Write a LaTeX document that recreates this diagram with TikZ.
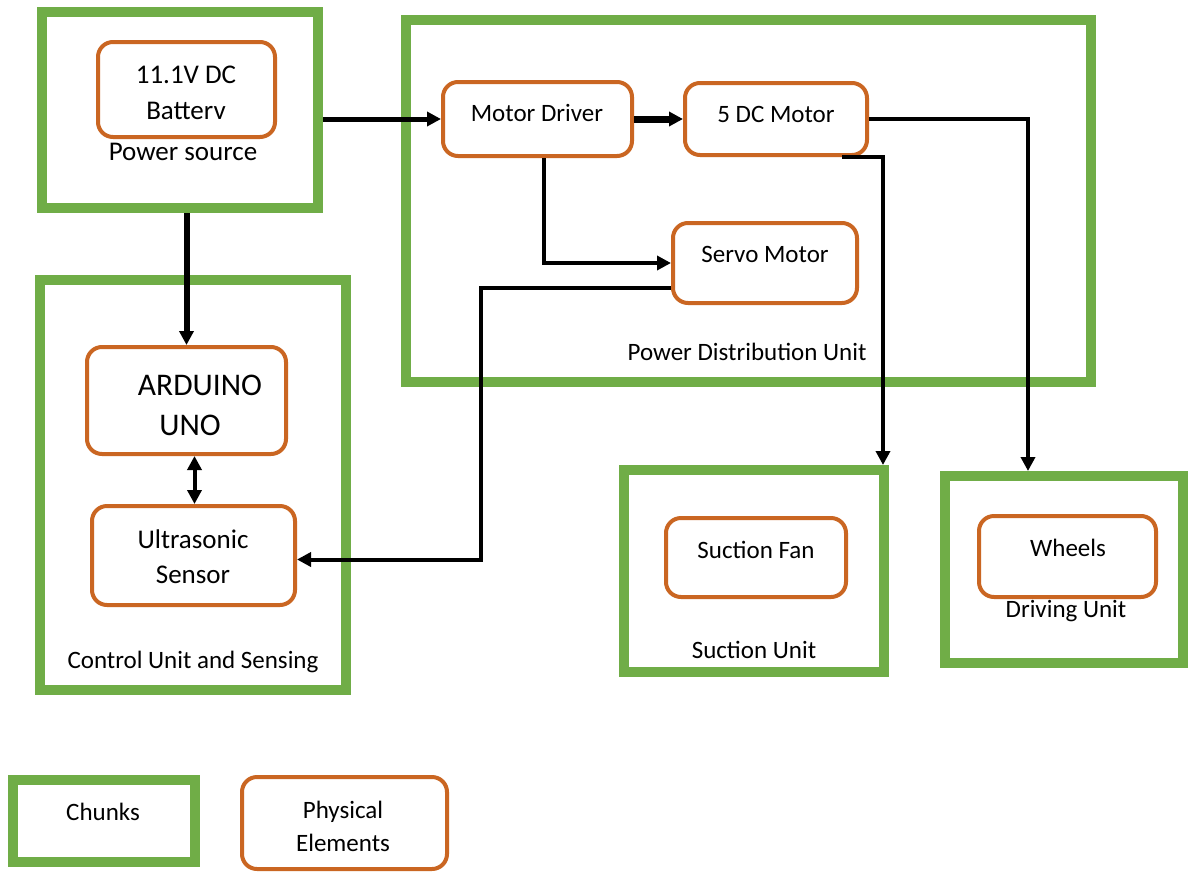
\documentclass[tikz,border=0pt]{standalone}
\usepackage{fontspec}
\setmainfont{Carlito}
\usetikzlibrary{arrows.meta,calc}
\definecolor{chunkgreen}{HTML}{70AD47}
\definecolor{physorange}{HTML}{CA6622}
\begin{document}
\begin{tikzpicture}[x=1pt,y=-1pt,
  chunk/.style={draw=chunkgreen, line width=10pt, fill=white, inner sep=0pt},
  phys/.style={draw=physorange, line width=4pt, rounded corners=15pt, fill=white, inner sep=0pt},
  txt/.style={font=\fontsize{25}{35}\selectfont, align=center, inner sep=0pt, text=black},
  lgtxt/.style={font=\fontsize{27}{36}\selectfont, align=center, inner sep=0pt, text=black},
  bigtxt/.style={font=\fontsize{31.5}{40}\selectfont, align=center, inner sep=0pt, text=black},
  conn/.style={line width=4pt, -{Triangle[length=14pt,width=14pt]}},
  biconn/.style={line width=4pt, {Triangle[length=14pt,width=14pt]}-{Triangle[length=14pt,width=14pt]}},
]
\useasboundingbox (0,0) rectangle (1192,871);
\fill[white] (0,0) rectangle (1192,871);

% chunks
\node[chunk, minimum width=276pt, minimum height=196pt] (ps)  at (180,110) {};
\node[chunk, minimum width=685pt, minimum height=362pt] (pdu) at (748.5,201) {};
\node[chunk, minimum width=306pt, minimum height=410pt] (cus) at (193,485) {};
\node[chunk, minimum width=260pt, minimum height=202pt] (su)  at (754,571) {};
\node[chunk, minimum width=238pt, minimum height=187pt] (du)  at (1064,569.5) {};
\node[chunk, minimum width=182pt, minimum height=82pt]  (lch) at (104,821) {};

% physical elements
\node[phys, minimum width=177pt, minimum height=95pt]  (bat)   at (186.5,89.5) {};
\node[phys, minimum width=189pt, minimum height=74pt]  (md)    at (537.5,119) {};
\node[phys, minimum width=182pt, minimum height=72pt]  (dcm)   at (776,119) {};
\node[phys, minimum width=184pt, minimum height=80pt]  (servo) at (765,263) {};
\node[phys, minimum width=199pt, minimum height=107pt] (ard)   at (186.5,400.5) {};
\node[phys, minimum width=203pt, minimum height=99pt]  (ult)   at (193.5,555.5) {};
\node[phys, minimum width=180pt, minimum height=79pt]  (fan)   at (756,557.5) {};
\node[phys, minimum width=177pt, minimum height=81pt]  (wh)    at (1067.5,556.5) {};
\node[phys, minimum width=205pt, minimum height=92pt]  (lpe)   at (344.5,823) {};

% texts
\node[lgtxt] (tbat) at (186,93) {11.1V DC\\Batterv};
\node[lgtxt] (tps) at (183,152) {Power source};
\node[txt] (tmd) at (537,113) {Motor Driver};
\node[txt] (tdcm) at (776,114) {5 DC Motor};
\node[txt] (tservo) at (765,254) {Servo Motor};
\node[txt] (tpdu) at (747,352) {Power Distribution Unit};
\node[bigtxt] (tard1) at (200,385) {ARDUINO};
\node[bigtxt] (tard2) at (190,425) {UNO};
\node[lgtxt,font=\fontsize{27}{35}\selectfont] (tult) at (193,557) {Ultrasonic\\Sensor};
\node[txt] (tcus) at (193,662) {Control Unit and Sensing};
\node[txt] (tfan) at (756,550) {Suction Fan};
\node[txt] (tsu) at (754,650) {Suction Unit};
\node[txt] (twh) at (1068,548) {Wheels};
\node[txt] (tdu) at (1066,611) {Driving Unit};
\node[txt] (tlch) at (103,812) {Chunks};
\node[txt,font=\fontsize{25}{33}\selectfont] (tlpe) at (343,826) {Physical\\Elements};

% connectors
\coordinate (bendA) at (481,0);
\coordinate (fanin) at (883,0);
\coordinate (whin) at (1028,0);
\coordinate (ultin) at ([yshift=-4pt]ult.east);
\draw[conn, line width=5pt] (ps.east |- md.west) -- (md.west);
\draw[conn, line width=7pt] (md.east) -- (dcm.west);
\draw[conn, line width=6pt] (ard.north |- ps.south) -- (ard.north);
\draw[biconn] ([xshift=8pt]ard.south) -- ([xshift=8pt]ard.south |- ult.north);
\draw[conn] ([xshift=6pt]md.south) |- (servo.west);
\draw[conn] ([yshift=-25pt]servo.west) -| (bendA |- ultin) -- (ultin);
\draw[conn] ([xshift=66pt]dcm.south) -| (fanin |- su.north);
\draw[conn] (dcm.east) -| (whin |- du.north);
\end{tikzpicture}
\end{document}
